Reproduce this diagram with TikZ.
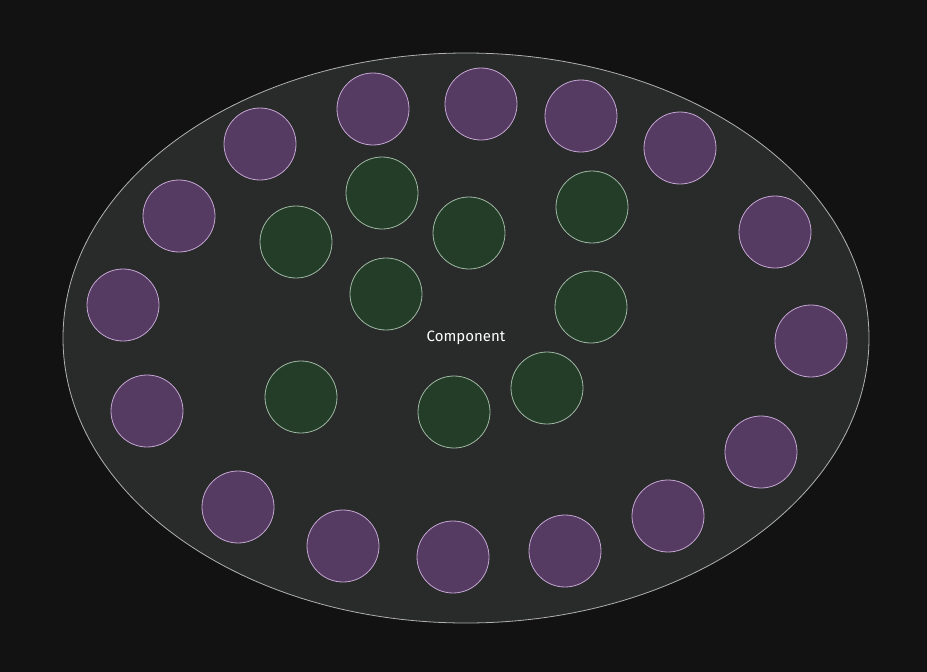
\documentclass[tikz,border=0pt]{standalone}
\usepackage{fontspec}
\setmainfont{Fira Sans}
\usepackage{xcolor}
\definecolor{canvas}{HTML}{121212}
\definecolor{shell}{HTML}{292A2A}
\definecolor{shelledge}{HTML}{B0B0B0}
\definecolor{plum}{HTML}{553B62}
\definecolor{plumedge}{HTML}{C4A6D2}
\definecolor{moss}{HTML}{243D29}
\definecolor{mossedge}{HTML}{9FB8A2}
\usepackage{tikz}
\usetikzlibrary{positioning, shapes.geometric}

\begin{document}
\begin{tikzpicture}[x=1pt, y=-1pt,
    outer/.style={circle, draw=plumedge, fill=plum, line width=0.8pt, minimum size=72pt, inner sep=0pt},
    inner/.style={circle, draw=mossedge, fill=moss, line width=0.8pt, minimum size=72pt, inner sep=0pt}]
  \fill[canvas] (0,0) rectangle (927,672);
  \useasboundingbox (0,0) rectangle (927,672);
  \node[ellipse, draw=shelledge, fill=shell, line width=0.8pt, minimum width=806pt, minimum height=570pt, inner sep=0pt] (comp) at (466,338) {};
  \node[text=white, font=\fontsize{15}{17}\selectfont] (label) at (comp.center) {Component};
  % ring of outer circles
  \node[outer] (p1) at (373,109) {};
  \node[outer] (p2) at (481,104) {};
  \node[outer] (p3) at (581,116) {};
  \node[outer] (p4) at (260,144) {};
  \node[outer] (p5) at (680,148) {};
  \node[outer] (p6) at (179,216) {};
  \node[outer] (p7) at (775,232) {};
  \node[outer] (p8) at (123,305) {};
  \node[outer] (p9) at (811,341) {};
  \node[outer] (p10) at (147,411) {};
  \node[outer] (p11) at (761,452) {};
  \node[outer] (p12) at (238,507) {};
  \node[outer] (p13) at (668,516) {};
  \node[outer] (p14) at (343,546) {};
  \node[outer] (p15) at (453,557) {};
  \node[outer] (p16) at (565,551) {};
  % inner circles
  \node[inner] (g1) at (382,193) {};
  \node[inner] (g2) at (592,207) {};
  \node[inner] (g3) at (296,242) {};
  \node[inner] (g4) at (469,233) {};
  \node[inner] (g5) at (386,294) {};
  \node[inner] (g6) at (591,307) {};
  \node[inner] (g7) at (301,397) {};
  \node[inner] (g8) at (547,388) {};
  \node[inner] (g9) at (454,412) {};
\end{tikzpicture}
\end{document}
